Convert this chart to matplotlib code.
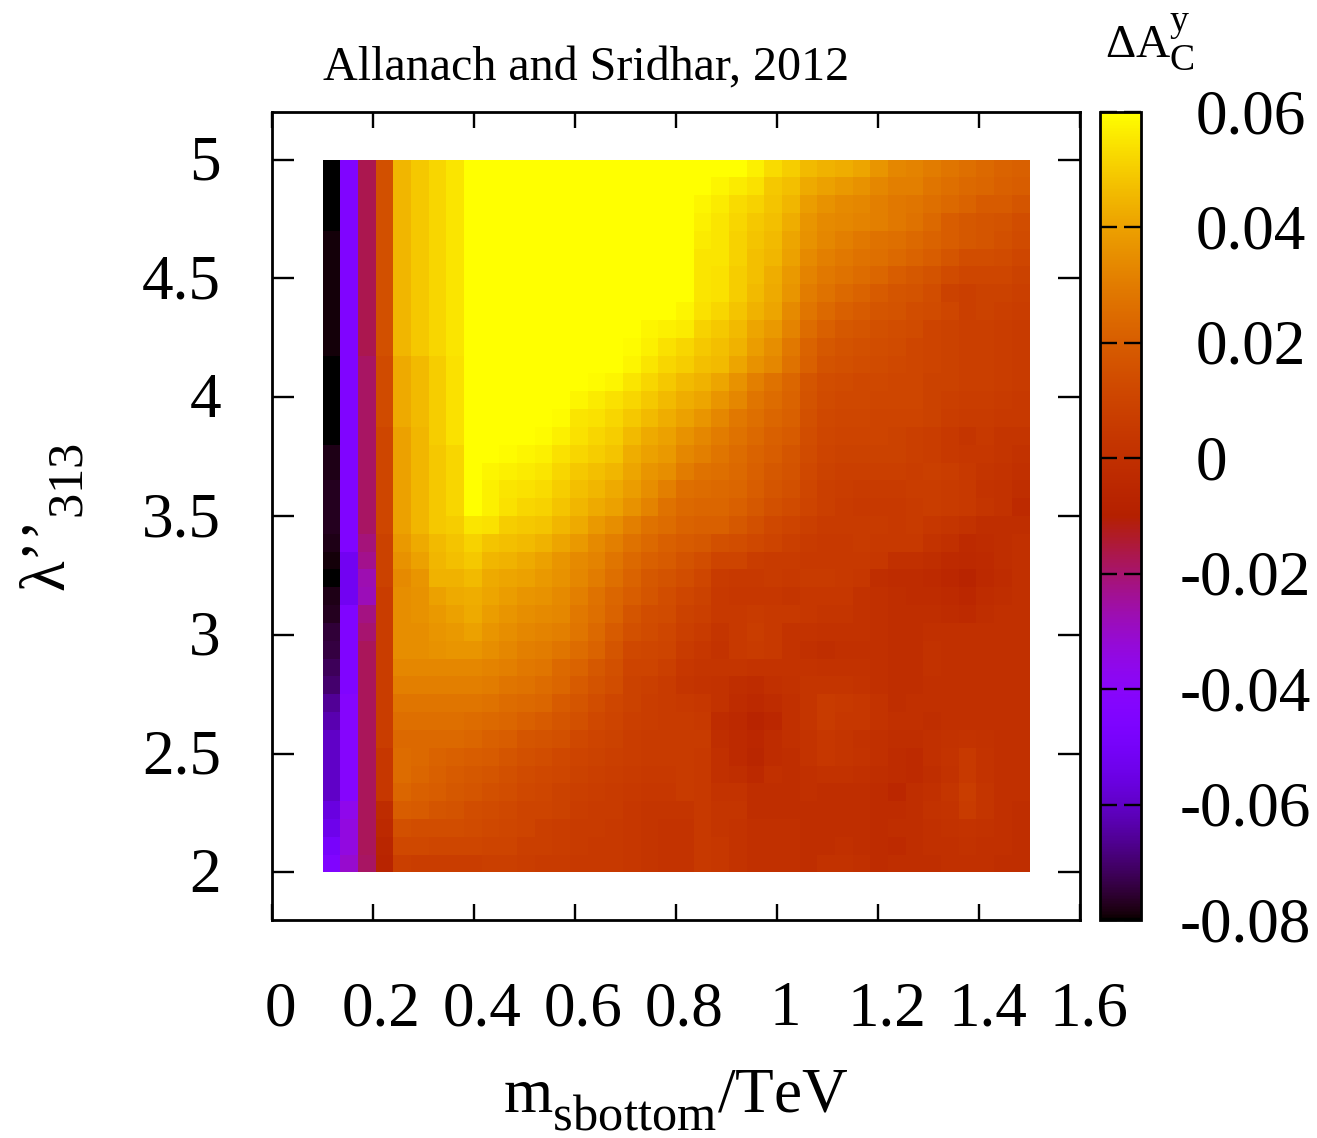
import numpy as np
import matplotlib
matplotlib.use("Agg")
import matplotlib.pyplot as plt
import matplotlib._mathtext as _mt
from matplotlib.colors import LinearSegmentedColormap, Normalize
from matplotlib.transforms import ScaledTranslation

_mt.SHRINK_FACTOR = 0.8
_mt.FontConstantsBase.sub1 = 0.65
_mt.FontConstantsBase.sub2 = 0.65
_mt.FontConstantsBase.sup1 = 0.45
plt.rcParams["font.family"] = ["Liberation Serif", "DejaVu Serif"]
plt.rcParams["mathtext.fontset"] = "custom"
plt.rcParams["mathtext.rm"] = "Liberation Serif"
plt.rcParams["mathtext.it"] = "Liberation Serif:italic"
plt.rcParams["mathtext.bf"] = "Liberation Serif:bold"

# Delta A_C^y in units of 0.001; each list is one mass column, rows from lambda=5 down to lambda=2
c00 = [-80,-80,-80,-80,-79,-79,-79,-79,-79,-79,-79,-80,-80,-80,-80,-80,-78,-78,-77,-77,-77,-78,-79,-80,-78,-77,-75,-74,-72,-70,-66,-63,-60,-60,-60,-60,-56,-54,-49,-45]
c01 = [-45,-45,-45,-45,-45,-45,-45,-45,-45,-45,-45,-45,-45,-45,-45,-45,-45,-45,-45,-45,-45,-45,-52,-52,-52,-45,-45,-45,-45,-45,-42,-42,-42,-42,-42,-42,-36,-34,-34,-31]
c02 = [-17,-17,-17,-17,-17,-17,-17,-17,-17,-17,-17,-19,-19,-19,-19,-19,-19,-19,-19,-19,-19,-21,-23,-27,-28,-22,-20,-18,-18,-18,-18,-18,-18,-18,-18,-18,-18,-18,-18,-19]
c03 = [15,15,15,15,15,15,15,15,15,15,15,13,13,13,13,11,11,11,11,11,11,9,9,9,7,7,7,7,7,7,7,7,7,4,4,4,-2,-4,-6,-7]
c04 = [45,45,45,45,45,45,45,45,45,45,45,42,42,42,42,40,40,40,40,40,40,38,36,34,35,35,35,35,33,31,28,26,24,25,25,23,20,15,12,8]
c05 = [49,49,49,49,49,49,49,49,49,49,49,46,46,46,46,45,45,45,45,45,45,42,40,37,36,36,35,35,33,31,28,26,24,24,23,21,19,14,12,7]
c06 = [52,52,52,52,52,52,52,52,52,52,52,50,50,50,50,50,49,49,49,49,49,46,45,44,40,38,37,36,33,31,28,26,24,22,21,20,17,14,11,7]
c07 = [55,55,55,55,55,55,55,55,55,55,55,54,54,54,54,54,52,52,52,52,50,48,47,44,42,40,38,37,33,31,28,26,24,21,19,18,16,14,11,7]
c08 = [62,62,62,62,62,62,62,62,62,62,62,62,62,62,62,62,62,62,62,60,55,51,49,46,43,42,40,37,33,31,28,25,23,20,18,17,14,13,11,7]
c09 = [62,62,62,62,62,62,62,62,62,62,62,62,62,62,62,62,60,58,57,57,54,48,45,42,41,39,37,35,32,30,27,24,21,19,17,15,13,12,10,8]
c10 = [62,62,62,62,62,62,62,62,62,62,62,62,62,62,62,62,59,57,55,54,50,47,44,41,39,37,35,33,31,28,25,23,20,17,15,14,12,11,10,8]
c11 = [62,62,62,62,62,62,62,62,62,62,62,62,62,62,62,60,58,56,54,52,49,46,42,40,37,35,33,31,29,27,24,21,17,15,13,12,10,10,8,7]
c12 = [62,62,62,62,62,62,62,62,62,62,62,62,62,62,62,59,57,55,53,51,48,44,40,38,36,34,32,30,28,25,23,19,16,14,12,11,10,8,8,6]
c13 = [62,62,62,62,62,62,62,62,62,62,62,62,61,60,59,57,54,52,50,48,45,41,37,36,34,33,31,28,24,23,19,17,15,12,11,9,9,7,7,6]
c14 = [62,62,62,62,62,62,62,62,62,62,62,62,60,58,55,54,52,49,47,45,42,38,34,33,31,29,28,25,22,19,17,15,12,10,9,8,7,6,6,5]
c15 = [62,62,62,62,62,62,62,62,62,62,62,62,59,56,54,52,50,47,45,42,38,34,32,30,27,26,24,22,18,16,14,12,10,9,8,7,6,6,5,5]
c16 = [62,62,62,62,62,62,62,62,62,62,62,62,58,54,52,50,48,45,42,40,35,31,28,26,23,22,19,17,15,14,11,10,9,8,7,6,6,5,5,5]
c17 = [62,62,62,62,62,62,62,62,61,60,59,58,55,52,49,46,43,41,39,36,31,27,24,22,20,17,15,12,10,9,9,8,7,7,6,5,4,4,4,4]
c18 = [62,62,62,62,62,62,62,62,60,58,57,55,52,49,46,42,40,37,35,32,27,24,21,18,17,14,13,11,10,8,7,7,6,6,5,4,3,3,3,3]
c19 = [62,62,62,62,62,62,62,62,60,57,54,52,49,46,43,40,38,35,31,27,25,21,19,16,14,13,11,10,8,6,6,6,6,6,5,4,3,2,2,2]
c20 = [62,62,62,62,62,62,62,62,58,56,52,50,46,43,40,36,33,30,26,24,22,19,16,14,11,9,8,6,4,3,5,6,6,6,6,6,3,2,2,2]
c21 = [62,60,58,57,56,55,55,55,54,51,49,47,44,41,37,33,31,27,25,23,21,18,14,11,9,8,6,4,3,2,4,5,6,5,5,5,5,5,5,5]
c22 = [60,58,56,55,55,55,54,54,52,49,47,46,41,37,33,30,28,26,24,23,21,15,10,6,5,5,3,2,3,1,1,-2,-1,0,0,2,3,3,4,4]
c23 = [60,56,53,52,51,51,50,50,48,46,44,41,36,33,29,27,25,24,23,21,18,14,10,5,4,5,5,5,3,-1,-2,-4,-3,-3,-1,2,3,2,2,2]
c24 = [57,54,51,49,48,47,47,46,44,41,39,36,31,28,26,24,22,21,20,18,15,12,7,5,4,6,7,6,2,-2,-4,-7,-5,-6,-4,-1,-1,0,0,0]
c25 = [53,49,48,47,46,45,43,42,41,38,35,33,27,25,23,21,20,18,17,15,12,10,6,6,4,5,5,5,2,0,-2,-5,-2,-2,0,-1,-1,0,0,0]
c26 = [50,47,45,43,41,40,38,37,34,32,29,27,23,22,21,19,17,16,15,13,10,8,6,5,3,5,2,2,2,1,0,0,0,-1,-1,-1,-1,0,0,0]
c27 = [46,42,39,37,36,34,32,30,28,25,22,21,17,16,15,14,13,12,11,10,8,6,5,6,4,4,2,0,2,3,3,3,2,2,0,0,-1,-1,-1,-1]
c28 = [44,40,36,34,33,31,29,27,24,21,18,16,14,13,12,11,10,9,8,8,6,5,5,6,4,3,1,-1,1,3,6,6,4,4,1,-1,-1,-1,-1,1]
c29 = [43,38,34,33,31,29,27,24,21,18,16,15,13,12,11,10,9,8,7,6,6,5,5,5,4,3,1,0,1,3,5,4,3,3,1,-1,-1,-1,0,1]
c30 = [41,36,33,32,29,27,25,22,19,17,15,14,12,12,11,10,9,8,6,5,6,6,5,4,1,1,1,0,1,2,4,4,1,2,0,-1,-1,-1,-1,0]
c31 = [37,33,31,31,27,26,23,19,17,15,14,13,12,11,10,10,9,8,6,5,6,5,4,-1,0,0,0,0,0,0,2,2,0,0,-1,-2,-2,-2,-2,-2]
c32 = [33,31,29,29,26,24,20,17,16,14,13,12,11,11,10,9,9,8,6,5,5,5,0,-2,-1,-1,-1,-1,-1,-1,-1,0,-1,-2,-2,-5,-2,-1,-3,-1]
c33 = [32,31,28,27,24,22,18,16,14,13,11,11,11,11,10,8,8,7,7,6,6,5,0,-2,-2,-1,-1,-1,-1,-1,0,0,-1,-3,-3,-1,-1,-1,-1,-1]
c34 = [30,28,26,24,22,20,16,14,13,10,10,10,9,9,9,7,7,8,7,7,4,2,-1,-3,-2,-1,0,1,1,0,0,-1,0,0,-1,0,1,0,0,-1]
c35 = [28,26,24,20,20,17,13,9,11,9,9,9,9,8,7,5,5,7,6,6,3,0,-3,-5,-3,-2,0,0,0,0,0,0,1,2,1,3,2,1,0,0]
c36 = [26,24,22,18,18,14,11,8,8,8,8,8,8,7,6,3,4,5,5,5,1,-3,-4,-7,-5,-3,0,0,0,0,0,0,2,5,5,7,6,2,1,0]
c37 = [24,23,19,17,17,14,11,9,9,8,8,8,8,7,6,5,4,3,2,3,-1,-2,-3,-4,-2,-1,0,0,0,0,0,0,1,2,2,3,3,1,0,0]
c38 = [22,21,19,16,15,13,11,9,8,7,7,7,7,6,5,3,3,2,1,1,-1,-1,-1,-2,-1,0,0,0,0,0,0,0,0,0,0,0,0,0,0,-1]
c39 = [21,20,17,14,13,11,9,8,7,6,6,6,6,5,5,3,1,0,-1,-3,-1,0,0,0,0,0,0,0,0,0,0,0,0,0,0,0,-1,-1,-1,-1]

mass_columns = [c00,c01,c02,c03,c04,c05,c06,c07,c08,c09,c10,c11,c12,c13,c14,c15,c16,c17,c18,c19,
                c20,c21,c22,c23,c24,c25,c26,c27,c28,c29,c30,c31,c32,c33,c34,c35,c36,c37,c38,c39]

x_ticks = [0, 0.2, 0.4, 0.6, 0.8, 1, 1.2, 1.4, 1.6]
x_labels = ["0", "0.2", "0.4", "0.6", "0.8", "1", "1.2", "1.4", "1.6"]
y_ticks = [2, 2.5, 3, 3.5, 4, 4.5, 5]
y_labels = ["2", "2.5", "3", "3.5", "4", "4.5", "5"]
cb_ticks = [-0.08, -0.06, -0.04, -0.02, 0, 0.02, 0.04, 0.06]
cb_labels = ["-0.08", "-0.06", "-0.04", "-0.02", "0", "0.02", "0.04", "0.06"]

Z = np.column_stack(mass_columns) * 0.001
x_edges = np.linspace(0.1, 1.5, 41)
y_edges = np.linspace(5, 2, 41)

# gnuplot palette rgbformulae 7,5,15
f = np.linspace(0, 1, 512)
pal = np.column_stack([np.sqrt(f), f ** 3, np.clip(np.sin(2 * np.pi * f), 0, 1)])
cmap = LinearSegmentedColormap.from_list("gp", pal, N=512)
norm = Normalize(-0.08, 0.06)

W, H = 1317, 1138
fig = plt.figure(figsize=(W / 100, H / 100), dpi=100)
px = 72 / 100


def rect(l, t, r, b):
    return [l / W, 1 - b / H, (r - l) / W, (b - t) / H]


LW = 2.0
TW = 1.7
FS = 45.5
ax = fig.add_axes(rect(272, 112, 1080, 920))
mesh = ax.pcolormesh(x_edges, y_edges, Z, cmap=cmap, norm=norm, antialiased=False, linewidth=0)
ax.set_xlim(0, 1.6)
ax.set_ylim(1.8, 5.2)
for s in ax.spines.values():
    s.set_linewidth(LW)
ax.set_xticks(x_ticks, x_labels)
ax.set_yticks(y_ticks, y_labels)
ax.tick_params(axis="x", direction="in", top=True, bottom=True, length=16 * px, width=TW,
               labelsize=FS, pad=61 * px)
ax.tick_params(axis="y", direction="in", left=True, right=True, length=22 * px, width=TW,
               labelsize=FS, pad=51 * px)
for lab in ax.get_xticklabels():
    lab.set_transform(lab.get_transform() + ScaledTranslation(8.5 / 100, 0, fig.dpi_scale_trans))
for lab in ax.get_yticklabels():
    lab.set_transform(lab.get_transform() + ScaledTranslation(0, 2 / 100, fig.dpi_scale_trans))

cax = fig.add_axes(rect(1100, 112, 1141, 920))
cb = fig.colorbar(mesh, cax=cax)
cb.outline.set_linewidth(LW)
cb.set_ticks(cb_ticks, labels=cb_labels)
cax.tick_params(axis="y", direction="in", left=True, right=True, length=17 * px, width=TW,
                labelsize=FS, pad=55 * px)
for lab in cax.get_yticklabels():
    t = lab.get_text()
    shift = -16 if t.startswith("-") else 0
    lab.set_transform(lab.get_transform() + ScaledTranslation(shift / 100, 1 / 100, fig.dpi_scale_trans))

fig.text(323 / W, 1 - 80 / H, "Allanach and Sridhar, 2012", fontsize=34.6, ha="left", va="baseline")
fig.text(1105 / W, 1 - 57 / H, r"$\mathrm{\Delta A_C^y}$", fontsize=34, ha="left", va="baseline")
fig.text(503 / W, 1 - 1113 / H, r"$\mathrm{m_{sbottom}/TeV}$", fontsize=FS, ha="left", va="baseline")
fig.text(66 / W, 1 - 592 / H, "\u03bb\u2019\u2019" + r"$\mathrm{_{313}}$", fontsize=FS, rotation=90,
         ha="left", va="baseline", rotation_mode="anchor")

fig.savefig("out.png", dpi=100)
